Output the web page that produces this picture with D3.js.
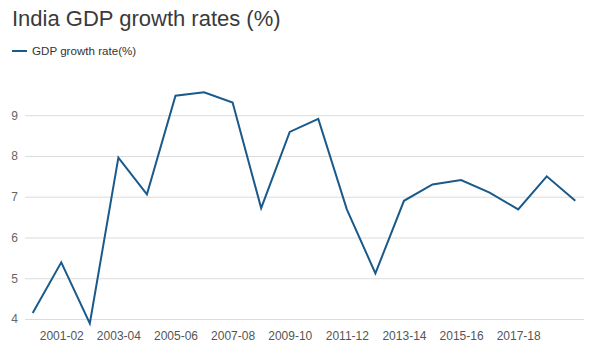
<!DOCTYPE html>
<html><head><meta charset="utf-8">
<script src="https://cdn.jsdelivr.net/npm/d3@7"></script>
<style>body{margin:0;background:#fff;}svg{display:block;font-family:"Liberation Sans",Arial,sans-serif;}</style>
</head><body><svg id="c" width="604" height="355"></svg>
<script>
const years = ["2000-01","2001-02","2002-03","2003-04","2004-05","2005-06","2006-07","2007-08","2008-09","2009-10","2010-11","2011-12","2012-13","2013-14","2014-15","2015-16","2016-17","2017-18","2018-19","2019-20"];
const gdpGrowth = [4.15,5.39,3.89,7.96,7.06,9.48,9.56,9.31,6.72,8.59,8.91,6.69,5.12,6.90,7.30,7.41,7.10,6.69,7.50,6.90];
const yTicks = [4,5,6,7,8,9];
const xTickLabels = ["2001-02","2003-04","2005-06","2007-08","2009-10","2011-12","2013-14","2015-16","2017-18"];
const seriesName = "GDP growth rate(%)";
const title = "India GDP growth rates (%)";

const svg = d3.select("#c");
const x = d3.scalePoint().domain(years).range([32.7, 575.3]);
const y = d3.scaleLinear().domain([4, 9]).range([319, 115.2]);
const gridL = 25, gridR = 584;

svg.append("text").attr("x", 12).attr("y", 26).attr("font-size", 22).attr("fill", "#3a3a3a").text(title);
svg.append("line").attr("x1", 12).attr("x2", 27).attr("y1", 51).attr("y2", 51).attr("stroke", "#1a5a8a").attr("stroke-width", 2);
svg.append("text").attr("x", 32).attr("y", 55).attr("font-size", 11.6).attr("fill", "#333").text(seriesName);

const yAxis = svg.append("g").attr("transform", `translate(${gridL},0)`)
  .call(d3.axisLeft(y).tickValues(yTicks).tickSize(-(gridR - gridL)).tickPadding(7).tickFormat(d3.format("d")));
yAxis.select(".domain").remove();
yAxis.selectAll("line").attr("stroke", "#dcdcdc");
yAxis.selectAll("text").attr("font-size", 12).attr("fill", "#666").attr("font-family", "Liberation Sans, Arial, sans-serif");

const xAxis = svg.append("g").attr("transform", "translate(0,319)")
  .call(d3.axisBottom(x).tickValues(xTickLabels).tickSize(0).tickPadding(12));
xAxis.select(".domain").remove();
xAxis.selectAll("text").attr("font-size", 12).attr("fill", "#555").attr("font-family", "Liberation Sans, Arial, sans-serif");

const line = d3.line().x((d, i) => x(years[i])).y(d => y(d));
svg.append("path").datum(gdpGrowth).attr("d", line).attr("fill", "none")
  .attr("stroke", "#1a5a8a").attr("stroke-width", 2).attr("stroke-linejoin", "miter");
</script></body></html>
